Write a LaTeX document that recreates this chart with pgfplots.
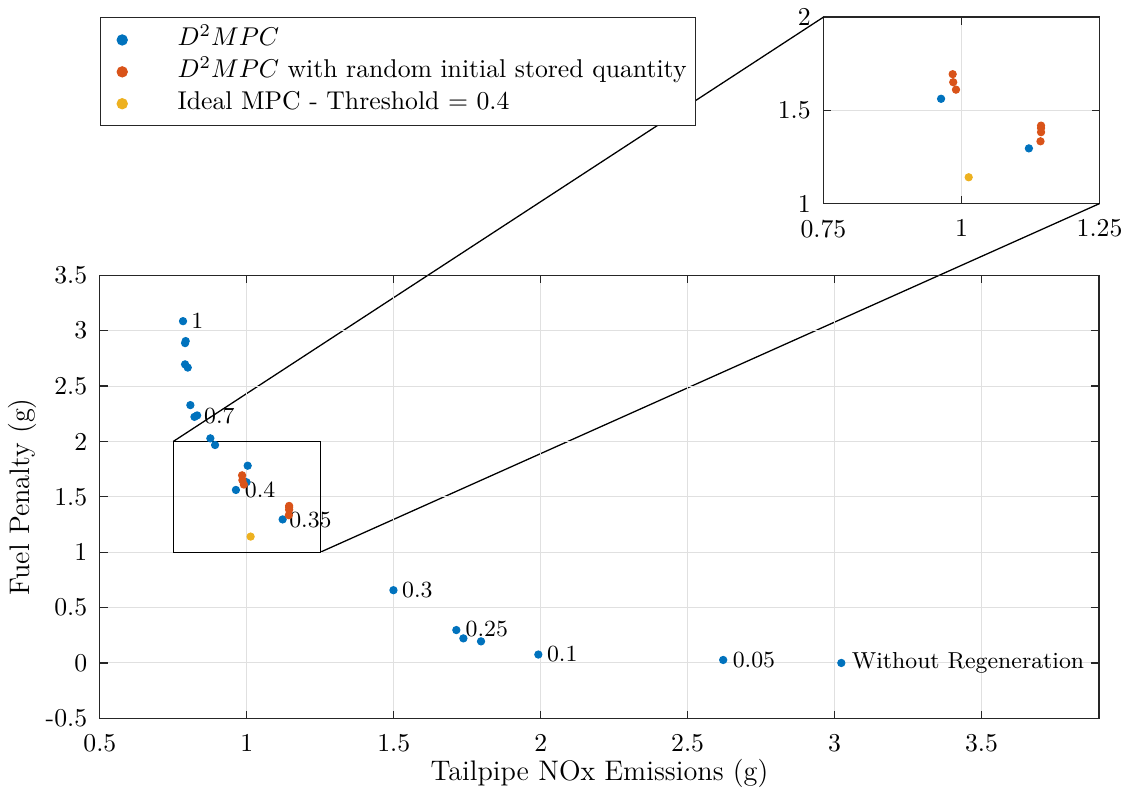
\documentclass[border=0pt]{standalone}
\usepackage{pgfplots}
\pgfplotsset{compat=1.18}
\definecolor{mblue}{rgb}{0,0.447,0.741}
\definecolor{morange}{rgb}{0.85,0.325,0.098}
\definecolor{myellow}{rgb}{0.929,0.694,0.125}
\definecolor{gridc}{rgb}{0.88,0.88,0.88}
\definecolor{axc}{rgb}{0.15,0.15,0.15}

\pgfplotsset{
  common/.style={
    scale only axis,
    axis line style={axc, line width=0.5pt},
    grid=major,
    major grid style={gridc, line width=0.4pt},
    tick style={axc, line width=0.5pt},
    tick align=inside,
    major tick length=3pt,
    tick label style={font=\normalsize},
    xticklabel style={yshift=-2.75pt},
    yticklabel style={xshift=-1.4pt},
  },
  lgdimg/.style={legend image code/.code={\draw[##1, mark size=2pt] plot coordinates {(5pt,0pt)}; \path[draw=none,fill=none] (0pt,0pt) -- (26.5pt,0pt);}},
}

\begin{document}
\begin{tikzpicture}
\path (-37.7pt,-29.7pt) rectangle (400.7pt,278.8pt);
% inset
\begin{axis}[common, at={(281.4pt,200.2pt)}, anchor=south west,
  width=107.4pt, height=72.5pt,
  xmin=0.75, xmax=1.25, ymin=1, ymax=2,
  xtick={0.75,1,1.25}, xticklabels={0.75,1,1.25},
  ytick={1,1.5,2}, yticklabels={1,1.5,2}]
\addplot[only marks, mark=*, mark size=1.4pt, color=mblue] coordinates {(0.963,1.562) (1.122,1.296)};
\addplot[only marks, mark=*, mark size=1.4pt, color=morange] coordinates {(0.984,1.694) (0.985,1.651) (0.990,1.611) (1.144,1.418) (1.144,1.405) (1.144,1.383) (1.143,1.334)};
\addplot[only marks, mark=*, mark size=1.4pt, color=myellow] coordinates {(1.013,1.141)};
\coordinate (inTL) at (rel axis cs:0,1);
\coordinate (inBR) at (rel axis cs:1,0);
\end{axis}
% zoom connector lines (drawn before the main axis so that its legend covers them)
\draw[black, line width=0.5pt] (28.57pt,107.69pt) -- (inTL);
\draw[black, line width=0.5pt] (85.72pt,64.61pt) -- (inBR);

\begin{axis}[common, at={(0pt,0pt)}, anchor=south west,
  width=388.6pt, height=172.3pt,
  xmin=0.5, xmax=3.9, ymin=-0.5, ymax=3.5,
  xtick={0.5,1,1.5,2,2.5,3,3.5}, xticklabels={0.5,1,1.5,2,2.5,3,3.5},
  ytick={-0.5,0,0.5,1,1.5,2,2.5,3,3.5}, yticklabels={-0.5,0,0.5,1,1.5,2,2.5,3,3.5},
  clip=false,
  xlabel={Tailpipe NOx Emissions (g)}, ylabel={Fuel Penalty (g)},
  label style={font=\fontsize{11}{13}\selectfont},
  xlabel style={at={(axis description cs:0.5,0)}, anchor=center, yshift=-21.4pt},
  ylabel style={at={(axis description cs:-0.0772,0.5)}, anchor=center},
  legend style={at={(0,1.582)}, anchor=north west, draw=axc, fill=white, font=\normalsize,
    inner xsep=3.5pt, inner ysep=3.85pt, row sep=3pt,
    nodes={inner sep=0pt, text height=7pt, text depth=2.4pt}},
  legend cell align=left]
\addplot[only marks, mark=*, mark size=1.4pt, color=mblue, lgdimg] coordinates {
(0.783,3.086) (0.792,2.906) (0.790,2.888) (0.790,2.696) (0.799,2.667)
(0.808,2.328) (0.822,2.222) (0.831,2.235) (0.876,2.028) (0.892,1.968)
(1.003,1.781) (0.999,1.632) (0.963,1.562) (1.122,1.296)
(1.499,0.657) (1.713,0.297) (1.737,0.222) (1.797,0.195) (1.992,0.076)
(2.621,0.027) (3.023,0.0)};
\addlegendentry{$D^2MPC$}
\addplot[only marks, mark=*, mark size=1.4pt, color=morange, lgdimg] coordinates {(0.984,1.694) (0.985,1.651) (0.990,1.611) (1.144,1.418) (1.144,1.405) (1.144,1.383) (1.143,1.334)};
\addlegendentry{$D^2MPC$ with random initial stored quantity}
\addplot[only marks, mark=*, mark size=1.4pt, color=myellow, lgdimg] coordinates {(1.013,1.141)};
\addlegendentry{Ideal MPC - Threshold $=$ 0.4}
\draw[black, line width=0.5pt] (axis cs:0.75,1) rectangle (axis cs:1.25,2);
\begin{scope}[every node/.style={anchor=west, inner sep=0pt, font=\small}]
\node at (axis cs:0.810,3.089) {1};
\node at (axis cs:0.853,2.226) {0.7};
\node at (axis cs:0.992,1.563) {0.4};
\node at (axis cs:1.143,1.293) {0.35};
\node at (axis cs:1.527,0.657) {0.3};
\node at (axis cs:1.743,0.303) {0.25};
\node at (axis cs:2.020,0.078) {0.1};
\node at (axis cs:2.652,0.027) {0.05};
\node at (axis cs:3.057,0.0) {Without Regeneration};
\end{scope}
\end{axis}
\end{tikzpicture}
\end{document}
